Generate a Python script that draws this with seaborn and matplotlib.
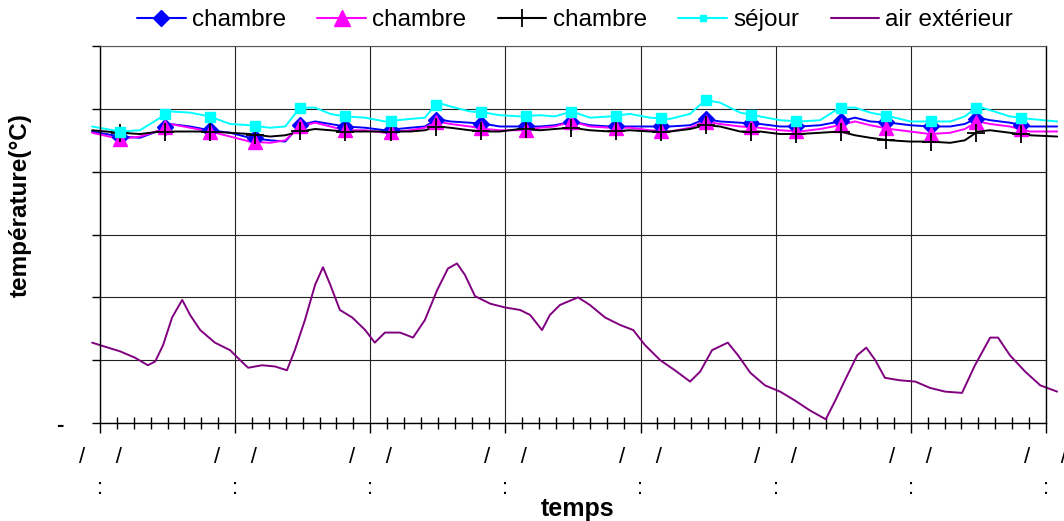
import numpy as np
import pandas as pd
import matplotlib
matplotlib.use('Agg')
import matplotlib.pyplot as plt
from matplotlib.lines import Line2D
from matplotlib.ticker import MultipleLocator
import seaborn as sns

# temps en heures depuis le début de la mesure (sondes intérieures)
heures_int = [-1.4, 3.6, 7.1, 10.7, 12.4, 16.0, 19.5, 23.1, 26.6, 30.2, 32.9, 35.5, 38.2, 40.9,
              43.5, 47.1, 50.6, 55.1, 57.7, 59.9, 62.2, 65.7, 68.4, 71.0, 74.6, 78.2, 80.8, 83.8,
              87.0, 90.6, 94.1, 97.7, 101.2, 104.8, 107.5, 110.1, 113.7, 117.2, 120.8, 124.3,
              127.9, 131.4, 134.1, 136.8, 140.3, 143.9, 147.4, 151.0, 153.6, 155.9, 158.1,
              161.6, 165.2, 170.0]

chambre_1 = [23.2, 22.8, 22.7, 23.3, 23.8, 23.6, 23.3, 23.1, 22.7, 22.5, 22.4, 23.7, 24.0, 23.8,
             23.6, 23.5, 23.3, 23.5, 23.6, 24.2, 24.0, 23.9, 23.8, 23.6, 23.6, 23.6, 23.7, 24.0,
             23.7, 23.6, 23.6, 23.6, 23.6, 23.7, 24.2, 24.0, 23.9, 23.8, 23.6, 23.6, 23.7, 24.0,
             24.3, 24.0, 23.9, 23.7, 23.6, 23.6, 23.8, 24.3, 24.1, 23.9, 23.6, 23.6]

chambre_2 = [23.1, 22.6, 22.8, 23.3, 23.8, 23.5, 23.2, 22.8, 22.4, 22.3, 22.5, 23.6, 23.9, 23.6,
             23.3, 23.3, 23.1, 23.3, 23.5, 24.0, 23.8, 23.6, 23.4, 23.3, 23.3, 23.5, 23.6, 24.0,
             23.6, 23.5, 23.5, 23.3, 23.2, 23.5, 24.0, 23.8, 23.6, 23.5, 23.3, 23.2, 23.4, 23.7,
             24.0, 23.7, 23.4, 23.2, 23.0, 23.1, 23.4, 24.0, 23.8, 23.6, 23.2, 23.2]

chambre_3 = [23.3, 23.1, 23.0, 23.2, 23.2, 23.2, 23.2, 23.1, 23.0, 22.8, 22.9, 23.2, 23.4, 23.3,
             23.2, 23.2, 23.2, 23.2, 23.3, 23.6, 23.5, 23.3, 23.2, 23.2, 23.4, 23.3, 23.4, 23.5,
             23.3, 23.2, 23.3, 23.2, 23.2, 23.4, 23.7, 23.6, 23.2, 23.2, 23.0, 23.0, 23.1, 23.2,
             22.9, 22.7, 22.5, 22.4, 22.4, 22.3, 22.5, 23.2, 23.3, 23.1, 22.9, 22.8]

sejour = [23.6, 23.2, 23.3, 24.3, 24.8, 24.7, 24.4, 23.8, 23.7, 23.5, 23.6, 25.1, 25.1, 24.6,
          24.4, 24.3, 24.0, 24.2, 24.3, 25.5, 25.2, 24.8, 24.7, 24.5, 24.4, 24.5, 24.4, 24.8,
          24.3, 24.4, 24.6, 24.3, 24.2, 24.6, 25.7, 25.5, 24.7, 24.4, 24.1, 24.0, 24.1, 25.1,
          25.1, 24.7, 24.4, 24.0, 24.0, 24.0, 24.4, 25.2, 24.9, 24.4, 24.2, 24.0]

# air extérieur
heures_ext = [-1.4, 0.0, 3.6, 6.2, 8.5, 9.8, 11.2, 12.8, 14.6, 16.0, 17.8, 20.4, 23.1, 24.9,
              26.3, 28.8, 31.1, 33.2, 34.6, 36.4, 38.2, 39.6, 40.9, 42.6, 44.8, 47.1, 48.8,
              50.6, 53.3, 55.6, 57.7, 59.9, 61.8, 63.4, 64.8, 66.6, 69.3, 71.9, 74.6, 76.4,
              78.5, 79.9, 81.7, 84.9, 87.0, 89.7, 92.4, 94.7, 96.8, 99.5, 102.1, 104.8, 106.6,
              108.7, 111.5, 113.3, 115.5, 118.1, 120.8, 123.4, 126.1, 128.9, 130.6, 132.3,
              134.5, 136.1, 137.7, 139.4, 142.1, 144.8, 147.4, 150.1, 153.1, 155.4, 158.1,
              159.5, 161.6, 164.3, 167.0, 170.0]
air_ext = [6.4, 6.2, 5.7, 5.2, 4.6, 4.9, 6.2, 8.4, 9.8, 8.6, 7.4, 6.4, 5.8, 5.0,
           4.4, 4.6, 4.5, 4.2, 5.8, 8.2, 11.0, 12.4, 11.0, 9.0, 8.4, 7.4, 6.4,
           7.2, 7.2, 6.8, 8.2, 10.6, 12.3, 12.7, 11.8, 10.1, 9.5, 9.2, 9.0, 8.6,
           7.4, 8.6, 9.4, 10.0, 9.4, 8.4, 7.8, 7.4, 6.2, 5.0, 4.2, 3.3, 4.1,
           5.8, 6.4, 5.4, 4.0, 3.0, 2.5, 1.8, 1.0, 0.3, 1.8, 3.4,
           5.4, 6.0, 5.0, 3.6, 3.4, 3.3, 2.8, 2.5, 2.4, 4.6, 6.8,
           6.8, 5.4, 4.1, 3.0, 2.5]

series = ['chambre_1', 'chambre_2', 'chambre_3', 'sejour', 'air_ext']
libelles = ['chambre', 'chambre', 'chambre', 'séjour', 'air extérieur']
couleurs = {'chambre_1': '#0000FF', 'chambre_2': '#FF00FF', 'chambre_3': '#000000',
            'sejour': '#00FFFF', 'air_ext': '#800080'}

frames = []
for nom, vals in zip(series[:4], [chambre_1, chambre_2, chambre_3, sejour]):
    frames.append(pd.DataFrame({'heure': heures_int, 'temp': vals, 'serie': nom}))
frames.append(pd.DataFrame({'heure': heures_ext, 'temp': air_ext, 'serie': 'air_ext'}))
df = pd.concat(frames, ignore_index=True)

sns.set_style('white')
plt.rcParams['font.family'] = ['Liberation Sans', 'DejaVu Sans']
plt.rcParams['text.color'] = 'black'
plt.rcParams['xtick.color'] = 'black'
plt.rcParams['ytick.color'] = 'black'

fig = plt.figure(figsize=(10.64, 5.21), dpi=100)
ax = fig.add_axes([0.094, 0.188, 0.889, 0.7236])

sns.lineplot(data=df, x='heure', y='temp', hue='serie', hue_order=series, palette=couleurs,
             estimator=None, sort=False, legend=False, lw=1.4, clip_on=False, ax=ax)

# marqueurs toutes les 8 heures
t_marq = np.arange(3.6, 168, 8.0)
styles = {'chambre_1': dict(marker='D', ms=8),
          'chambre_2': dict(marker='^', ms=10),
          'chambre_3': dict(marker='+', ms=13, mew=1.3),
          'sejour': dict(marker='s', ms=7.5)}
for nom, vals in zip(series[:4], [chambre_1, chambre_2, chambre_3, sejour]):
    ax.plot(t_marq, np.interp(t_marq, heures_int, vals), ls='none',
            color=couleurs[nom], clip_on=False, zorder=3, **styles[nom])

ax.set_xlim(0, 168)
ax.set_ylim(0, 30)
ax.set_xticks(range(0, 169, 24))
ax.xaxis.set_minor_locator(MultipleLocator(3))
ax.set_xticklabels(['/' + ' ' * 5 + '/\n:'] * 8, fontsize=16, linespacing=1.65)
ax.set_yticks(range(0, 31, 5))
ax.set_yticklabels(['-', '', '', '', '', '', ''], fontsize=16, fontweight='bold')
ax.tick_params(axis='x', which='major', bottom=True, direction='out', length=7, width=1,
               pad=10, color='black', labelcolor='black')
ax.tick_params(axis='x', which='minor', bottom=True, direction='inout', length=8, width=1,
               color='black')
ax.tick_params(axis='y', left=True, direction='out', length=6, width=1, pad=20,
               color='black', labelcolor='black')
ax.grid(True, which='major', color='#222222', lw=0.8)
ax.set_axisbelow(True)
for s in ['left', 'bottom', 'right']:
    ax.spines[s].set_color('black')
    ax.spines[s].set_linewidth(1.0)
ax.spines['top'].set_color('#555555')
ax.set_xlabel('')
ax.set_ylabel('')

fig.text(20 / 1064, 1 - 205 / 521, 'température(°C)', rotation=90, ha='center', va='center',
         fontsize=17.5, fontweight='bold')
fig.text(578 / 1064, 1 - 509 / 521, 'temps', ha='center', va='center',
         fontsize=18, fontweight='bold')

poignees = [Line2D([], [], color=couleurs['chambre_1'], lw=1.5, marker='D', ms=8),
            Line2D([], [], color=couleurs['chambre_2'], lw=1.5, marker='^', ms=11),
            Line2D([], [], color=couleurs['chambre_3'], lw=1.5, marker='+', ms=13, mew=1.3),
            Line2D([], [], color=couleurs['sejour'], lw=1.5, marker='s', ms=5),
            Line2D([], [], color=couleurs['air_ext'], lw=1.5)]
fig.legend(poignees, libelles, ncol=5, loc='center', bbox_to_anchor=(575 / 1064, 1 - 20 / 521),
           frameon=False, fontsize=17.5, handlelength=2.0, handletextpad=0.25,
           columnspacing=1.3, borderaxespad=0)

fig.savefig('out.png', dpi=100)
